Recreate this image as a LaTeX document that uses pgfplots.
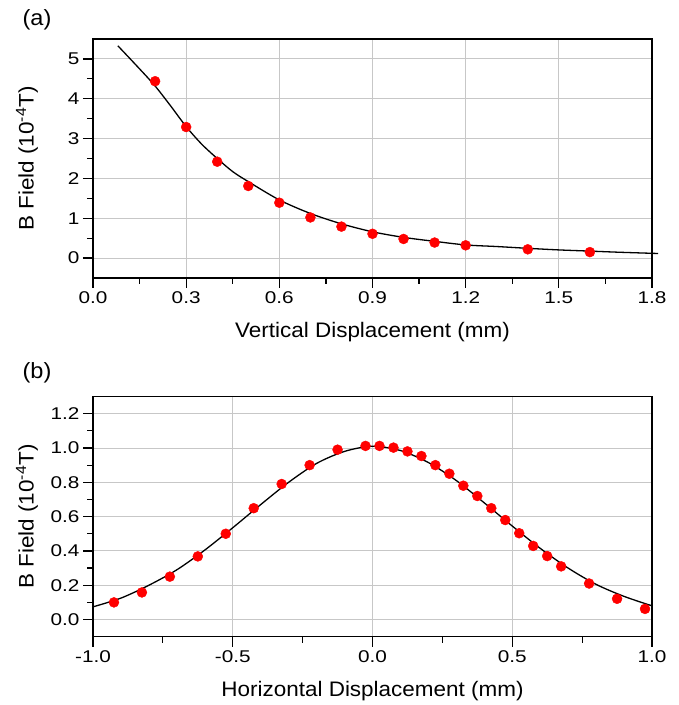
\documentclass[border=0pt]{standalone}
\usepackage{fontspec}
\setmainfont{Liberation Sans}
\newfontfamily\tickfont{Liberation Sans}[FakeStretch=1.22]
\newfontfamily\labelfont{Liberation Sans}[FakeStretch=1.07]
\usepackage{pgfplots}
\pgfplotsset{compat=1.18}

\pgfplotsset{panel/.style={
    scale only axis, width=559pt,
    axis line style={line width=1.4pt},
    tick align=outside, tick pos=left,
    major tick length=10pt, minor tick length=6pt,
    every tick/.style={black, line width=1.2pt},
    grid=major, major grid style={black!22, line width=0.9pt},
    tick label style={font=\tickfont\fontsize{17}{19}\selectfont},
    /pgf/number format/assume math mode=true,
    label style={font=\labelfont\fontsize{21}{25}\selectfont},
    ylabel={B Field (10\textsuperscript{-4}T)},
    y label style={at={(axis description cs:-0.118,0.5)}, anchor=center},
    minor x tick num=1, minor y tick num=1,
    fit/.style={black, line width=1.3pt, smooth, no markers},
    pts/.style={only marks, mark=*, mark size=5pt, red, mark options={draw=red, fill=red}},
}}

\begin{document}
\begin{tikzpicture}
\useasboundingbox (0,0) rectangle (679pt,705pt);

\node[font=\labelfont\fontsize{22}{26}\selectfont] at (37pt,685pt) {(a)};
\node[font=\labelfont\fontsize{22}{26}\selectfont] at (37pt,332pt) {(b)};

% (a) vertical scan
\begin{axis}[panel, at={(93pt,427pt)}, anchor=south west, height=239pt,
    xmin=0, xmax=1.8, ymin=-0.5, ymax=5.5,
    xtick={0,0.3,0.6,0.9,1.2,1.5,1.8}, ytick={0,1,2,3,4,5},
    xticklabel style={/pgf/number format/.cd, fixed, fixed zerofill, precision=1},
    xlabel={Vertical Displacement (mm)},
    x label style={at={(axis description cs:0.5,-0.247)}, anchor=base},
    clip=false]
\addplot[fit] coordinates {
    (0.08,5.33) (0.15,4.75) (0.2,4.32) (0.25,3.82) (0.3,3.30) (0.35,2.86)
    (0.4,2.50) (0.45,2.17) (0.5,1.92) (0.6,1.46) (0.7,1.12) (0.8,0.86)
    (0.9,0.66) (1.0,0.52) (1.1,0.42) (1.2,0.33) (1.3,0.29) (1.4,0.245)
    (1.5,0.205) (1.6,0.175) (1.7,0.145) (1.82,0.115)};
\addplot[pts] coordinates {
    (0.2,4.44) (0.3,3.29) (0.4,2.42) (0.5,1.81) (0.6,1.39) (0.7,1.02)
    (0.8,0.79) (0.9,0.61) (1.0,0.48) (1.1,0.39) (1.2,0.32) (1.4,0.22)
    (1.6,0.15)};
\end{axis}

% (b) horizontal scan
\begin{axis}[panel, at={(93pt,68.3pt)}, anchor=south west, height=240.2pt,
    xmin=-1, xmax=1, ymin=-0.1, ymax=1.3,
    xtick={-1,-0.5,0,0.5,1}, ytick={0,0.2,0.4,0.6,0.8,1.0,1.2},
    xticklabel style={/pgf/number format/.cd, fixed, fixed zerofill, precision=1},
    yticklabel style={/pgf/number format/.cd, fixed, fixed zerofill, precision=1},
    xlabel={Horizontal Displacement (mm)},
    x label style={at={(axis description cs:0.5,-0.251)}, anchor=base}]
\addplot[fit] coordinates {
    (-1.0,0.074) (-0.9,0.125) (-0.8,0.20) (-0.7,0.29) (-0.6,0.405)
    (-0.5,0.535) (-0.4,0.67) (-0.3,0.80) (-0.2,0.91) (-0.1,0.98) (0,1.01)
    (0.1,0.985) (0.2,0.915) (0.3,0.81) (0.4,0.68) (0.5,0.545) (0.6,0.415)
    (0.7,0.30) (0.8,0.205) (0.9,0.135) (1.0,0.08)};
\addplot[pts] coordinates {
    (-0.925,0.10) (-0.825,0.158) (-0.725,0.25) (-0.625,0.368) (-0.525,0.50)
    (-0.425,0.649) (-0.325,0.79) (-0.225,0.90) (-0.125,0.99) (-0.025,1.012)
    (0.025,1.012) (0.075,1.002) (0.125,0.98) (0.175,0.953) (0.225,0.90)
    (0.275,0.85) (0.325,0.78) (0.375,0.72) (0.425,0.649) (0.475,0.58)
    (0.525,0.503) (0.575,0.429) (0.625,0.37) (0.675,0.31) (0.775,0.21)
    (0.875,0.121) (0.975,0.062)};
\end{axis}
\end{tikzpicture}
\end{document}
